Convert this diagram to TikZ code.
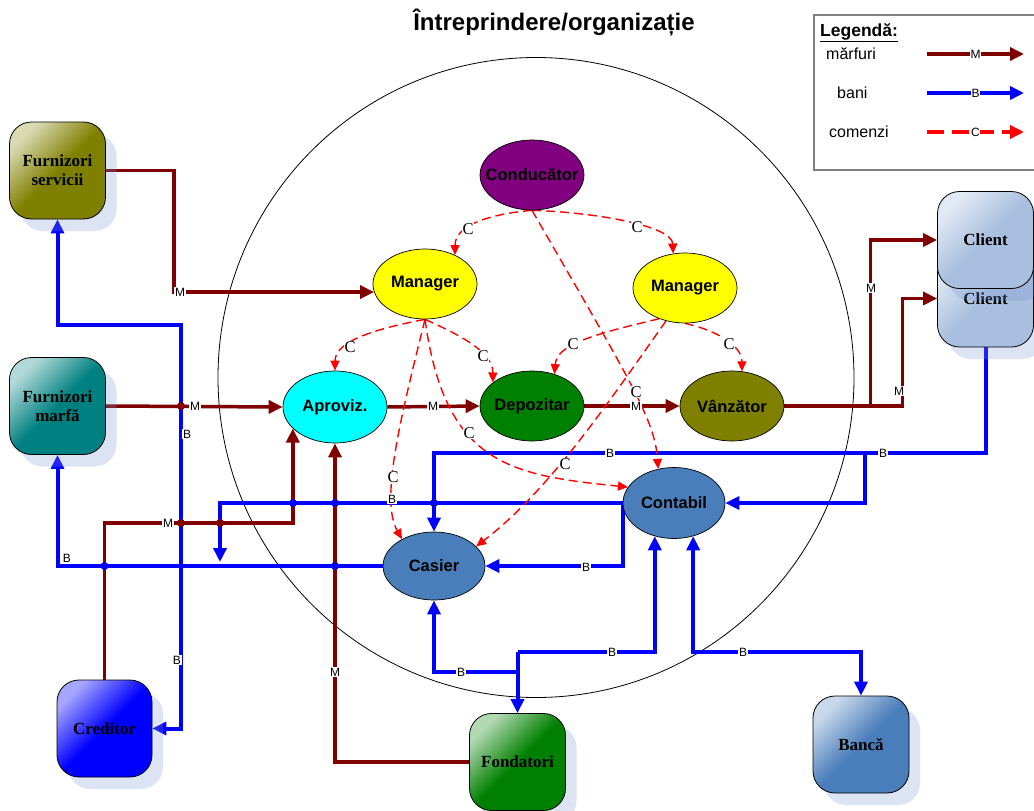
\documentclass[tikz,border=0pt]{standalone}
\usepackage{fontspec}
\setmainfont{Liberation Serif}
\newfontfamily\sansf{Liberation Sans}
\usetikzlibrary{arrows.meta,shapes.geometric,shadows,backgrounds,calc}
\definecolor{mred}{HTML}{800000}
\definecolor{bblue}{HTML}{0000FF}
\definecolor{dashred}{HTML}{FF0000}
\definecolor{olivec}{HTML}{808000}
\definecolor{tealc}{HTML}{008080}
\definecolor{greenc}{HTML}{008000}
\definecolor{purplec}{HTML}{800080}
\definecolor{cyanc}{HTML}{00FFFF}
\definecolor{yellowc}{HTML}{FFFF00}
\definecolor{steelc}{HTML}{4A7EBB}
\definecolor{clientc}{HTML}{A9BFDF}
\definecolor{shadowc}{HTML}{7896D2}
\definecolor{legendgray}{HTML}{808080}
\newcommand\zw[1]{\makebox[0pt]{#1}}
\tikzset{
  box/.style={draw=black, line width=0.8pt, rounded corners=22pt, minimum width=96pt,
    minimum height=97pt, inner sep=0pt, align=center,
    font=\bfseries\fontsize{17}{19}\selectfont,
    drop shadow={shadow xshift=11pt, shadow yshift=-12pt, fill=shadowc, opacity=0.26}},
  boxshade/.style args={#1/#2}{top color=#1, bottom color=#2, middle color=#2, shading angle=45},
  ell/.style={ellipse, draw=black, line width=0.7pt, inner sep=0pt, minimum width=104pt,
    minimum height=70pt, font=\sansf\bfseries\fontsize{16.5}{18}\selectfont},
  mline/.style={draw=mred, line width=3.5pt},
  marr/.style={mline, -{Triangle[length=14pt,width=13pt]}},
  bline/.style={draw=bblue, line width=4pt},
  barr/.style={bline, -{Triangle[length=14pt,width=13pt]}},
  bboth/.style={bline, {Triangle[length=14pt,width=13pt]}-{Triangle[length=14pt,width=13pt]}},
  carr/.style={draw=dashred, line width=1.4pt, dash pattern=on 9pt off 5pt, -{Triangle[length=10pt,width=9pt]}},
  legc/.style={draw=dashred, line width=3.5pt, dash pattern=on 17pt off 8pt, -{Triangle[length=14pt,width=13pt]}},
  lab/.style={fill=white, inner sep=0.6pt, font=\sansf\fontsize{12}{13}\selectfont},
  clab/.style={fill=white, inner sep=0.3pt, font=\fontsize{16.5}{17}\selectfont},
  legtext/.style={anchor=west, inner sep=0pt, font=\sansf\fontsize{16}{18}\selectfont}
}
\begin{document}
\begin{tikzpicture}[x=1pt,y=-1pt]
\useasboundingbox (0,0) rectangle (1034,811);

% ---------- boxes ----------
\node[box, boxshade={olivec!30!white/olivec}] (fs) at (57.5,170.5) {Furnizori\\servicii};
\node[box, boxshade={tealc!30!white/tealc}] (fm) at (57.5,406) {Furnizori\\marfă};
\node[box, boxshade={bblue!35!white/bblue}, minimum width=95pt] (cred) at (104.5,728.5) {Creditor};
\node[box, boxshade={greenc!30!white/greenc}] (fond) at (517.5,762) {Fondatori};
\node[box, boxshade={steelc!30!white/steelc}] (banca) at (861,744.5) {Bancă};
\node[box, boxshade={clientc!35!white/clientc}] (cb) at (985.5,298.5) {Client};
\node[box, boxshade={clientc!35!white/clientc}] (cf) at (985.5,240) {Client};

% ---------- ellipses ----------
\node[ell, fill=purplec] (cond) at (532,175) {\zw{Conducător}};
\node[ell, fill=yellowc] (ml) at (425,284) {\zw{Manager}};
\node[ell, fill=yellowc] (mr) at (685,288) {\zw{Manager}};
\node[ell, fill=cyanc, minimum height=72pt] (aprov) at (335,407) {\zw{Aproviz.}};
\node[ell, fill=greenc] (dep) at (532,406) {\zw{Depozitar}};
\node[ell, fill=olivec] (vz) at (732,406) {\zw{Vânzător}};
\node[ell, fill=steelc, minimum width=102pt, minimum height=71pt] (kont) at (674,503) {\zw{Contabil}};
\node[ell, fill=steelc, minimum width=102pt, minimum height=68pt] (cas) at (434,566) {\zw{Casier}};

% ---------- title & legend ----------
\node[font=\sansf\bfseries\fontsize{24}{28}\selectfont, inner sep=0pt] (title) at (554,23) {Întreprindere/organizație};
\draw[legendgray, line width=1.2pt] (814,15) rectangle (1040,170);
\node[anchor=west, inner sep=0pt, font=\sansf\bfseries\fontsize{17.5}{20}\selectfont] (legt) at (820,33) {\underline{Legendă:}};
\node[legtext] (lm) at (826,54) {mărfuri};
\node[legtext] (lb) at (837,93) {bani};
\node[legtext] (lc) at (829,132) {comenzi};
\coordinate (lm1) at (927,54); \coordinate (lm2) at (1024,54);
\coordinate (lb1) at (927,93); \coordinate (lb2) at (1024,93);
\coordinate (lc1) at (927,132); \coordinate (lc2) at (1024,132);
\draw[marr] (lm1) -- (lm2) node[lab, midway] {M};
\draw[barr] (lb1) -- (lb2) node[lab, midway] {B};
\draw[legc] (lc1) -- (lc2) node[lab, midway] {C};

\coordinate (arrB) at (220,562);
\coordinate (jb) at (865,453);
\coordinate (jf) at (fond.north |- 0,652);

\begin{scope}[on background layer]
\fill[white] (0,0) rectangle (1034,811);
\draw[line width=0.8pt] (536,377.5) ellipse [x radius=318, y radius=320];

% ---- goods (M) ----
\draw[marr] (fs.east) -- ++(68,0) |- (ml.189);
\draw[marr] (fm.east) -- (aprov.west);
\draw[marr] (aprov.east) -- (dep.west);
\draw[marr] (dep.east) -- (vz.west);
\draw[marr] (vz.east) -- ++(86,0) |- (cf.west);
\draw[marr] (vz.east) -- ++(118,0) |- (cb.west);
\draw[marr] (cred.north) |- (aprov.207 |- 0,523) -- (aprov.207);
\draw[marr] (fond.west) -| (aprov.south);

% ---- money (B) ----
\draw[barr] (cas.west) -| (fm.south);
\draw[barr] (kont.west) -| (arrB);
\draw[barr] (kont.west) |- (cas.east);
\draw[barr] (cb.south) -- (cb.south |- 0,453) -| (cas.north);
\draw[barr] (jb) |- (kont.east);
\draw[bboth] (fs.south) |- (181,325) |- (cred.east);
\draw[barr] (jf) -- (fond.north);
\draw[barr] (jf) -| (kont.240);
\draw[barr] (fond.north |- 0,672) -| (cas.south);
\draw[bboth] (kont.300) |- (banca.north |- 0,652) -- (banca.north);

% ---- hops ----
\fill[mred] (181,406) circle (4pt);
\fill[mred] (181,523) circle (4pt);
\fill[mred] (220,523) circle (4pt);
\fill[bblue] (293,503) circle (4pt);
\fill[bblue] (335,503) circle (4pt);
\fill[bblue] (434,503) circle (4pt);
\fill[bblue] (104.5,566) circle (4pt);
\fill[bblue] (335,566) circle (4pt);

% ---- orders (C) ----
\draw[carr] (cond.south) .. controls (490,214) and (455,225) .. (ml.44);
\draw[carr] (cond.south) .. controls (590,212) and (672,225) .. (mr.109);
\draw[carr] (cond.south) .. controls (630,380) and (655,420) .. (kont.115);
\draw[carr] (ml.south) .. controls (380,328) and (335,340) .. (aprov.north);
\draw[carr] (ml.south) .. controls (460,335) and (493,352) .. (dep.149);
\draw[carr] (ml.south) .. controls (400,420) and (380,500) .. (cas.140);
\draw[carr] (ml.south) .. controls (445,465) and (510,475) .. (kont.161);
\draw[carr] (mr.230) .. controls (590,335) and (557,345) .. (dep.55);
\draw[carr] (mr.south) .. controls (715,330) and (742,345) .. (vz.74);
\draw[carr] (mr.240) .. controls (610,400) and (550,490) .. (cas.25);
\end{scope}

% ---------- labels ----------
\foreach \p in {(180,292),(195,406),(433,406),(636,406),(871,288),(899,391),(168,523),(335,672)}
  \node[lab] at \p {M};
\foreach \p in {(610,453),(883,453),(392,499),(586,567),(67,558),(187,434),(177,660),(461,672),(612,652),(743,652)}
  \node[lab] at \p {B};
\foreach \p in {(468,229),(637,227),(636,392),(350,347),(483,356),(393,477),(469,433),(573,344),(729,344),(565,464)}
  \node[clab] at \p {C};
\end{tikzpicture}
\end{document}
